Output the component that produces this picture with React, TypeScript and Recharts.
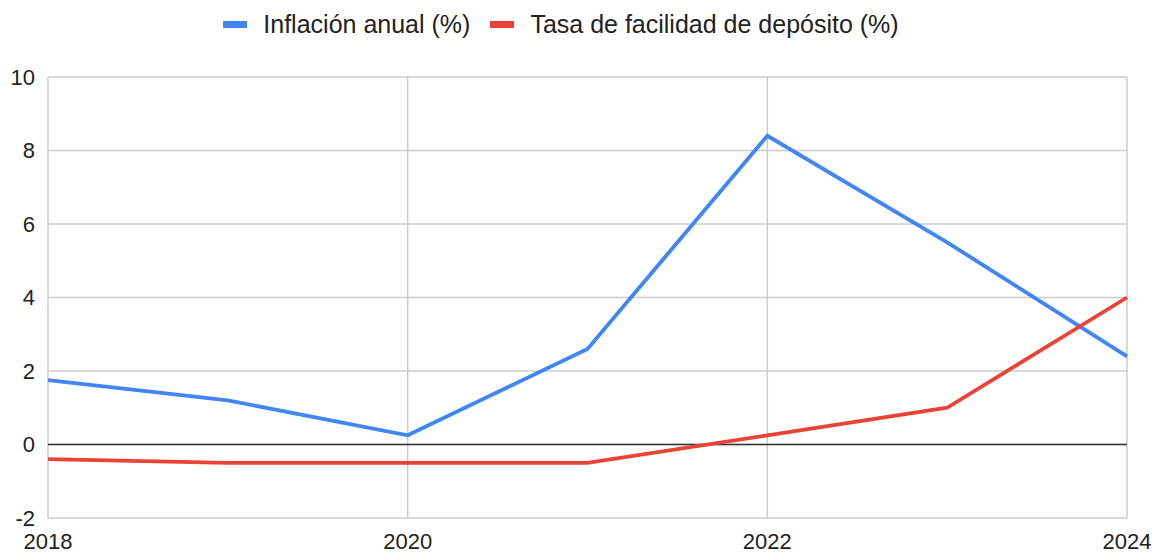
import { CartesianGrid, Line, LineChart, ReferenceLine, XAxis, YAxis } from 'recharts';

const years = [2018, 2019, 2020, 2021, 2022, 2023, 2024];
const inflation = [1.75, 1.2, 0.25, 2.6, 8.4, 5.5, 2.4];
const depositRate = [-0.4, -0.5, -0.5, -0.5, 0.25, 1.0, 4.0];

const xTicks = [2018, 2020, 2022, 2024];
const yTicks = [-2, 0, 2, 4, 6, 8, 10];

const SERIES = [
  { key: 'inflation', name: 'Inflación anual (%)', color: '#4285f4' },
  { key: 'rate', name: 'Tasa de facilidad de depósito (%)', color: '#ea4335' },
];

const data = years.map((year, i) => ({
  year,
  inflation: inflation[i],
  rate: depositRate[i],
}));

const FONT = 'Arial, "Liberation Sans", sans-serif';
const tickStyle = { fill: '#222', fontSize: 22, fontFamily: FONT };

function Legend() {
  return (
    <div
      style={{
        position: 'absolute',
        top: 10,
        left: 0,
        width: 1158,
        display: 'flex',
        justifyContent: 'center',
        gap: 20,
        fontFamily: FONT,
        fontSize: 25,
        color: '#222',
        paddingRight: 36,
        boxSizing: 'border-box',
      }}
    >
      {SERIES.map((s) => (
        <div key={s.key} style={{ display: 'flex', alignItems: 'center' }}>
          <span style={{ width: 24, height: 7, background: s.color, marginRight: 16 }} />
          <span>{s.name}</span>
        </div>
      ))}
    </div>
  );
}

export default function App() {
  return (
    <div style={{ position: 'fixed', left: 0, top: 0, width: 1158, height: 557, background: '#fff' }}>
      <Legend />
      <LineChart width={1158} height={557} data={data} margin={{ top: 77, right: 31, left: 0, bottom: 0 }}>
        <CartesianGrid stroke="#cccccc" strokeWidth={1.5} verticalValues={xTicks} />
        <XAxis
          dataKey="year"
          type="number"
          domain={[2018, 2024]}
          ticks={xTicks}
          axisLine={false}
          tickLine={false}
          tickSize={0}
          tickMargin={15}
          height={39}
          tick={tickStyle}
          interval={0}
        />
        <YAxis
          type="number"
          domain={[-2, 10]}
          ticks={yTicks}
          axisLine={false}
          tickLine={false}
          tickSize={0}
          tickMargin={13}
          width={48}
          tick={tickStyle}
          interval={0}
        />
        <ReferenceLine y={0} stroke="#333" strokeWidth={1.5} />
        {SERIES.map((s) => (
          <Line
            key={s.key}
            type="linear"
            dataKey={s.key}
            name={s.name}
            stroke={s.color}
            strokeWidth={3.8}
            dot={false}
            activeDot={false}
            isAnimationActive={false}
          />
        ))}
      </LineChart>
    </div>
  );
}
